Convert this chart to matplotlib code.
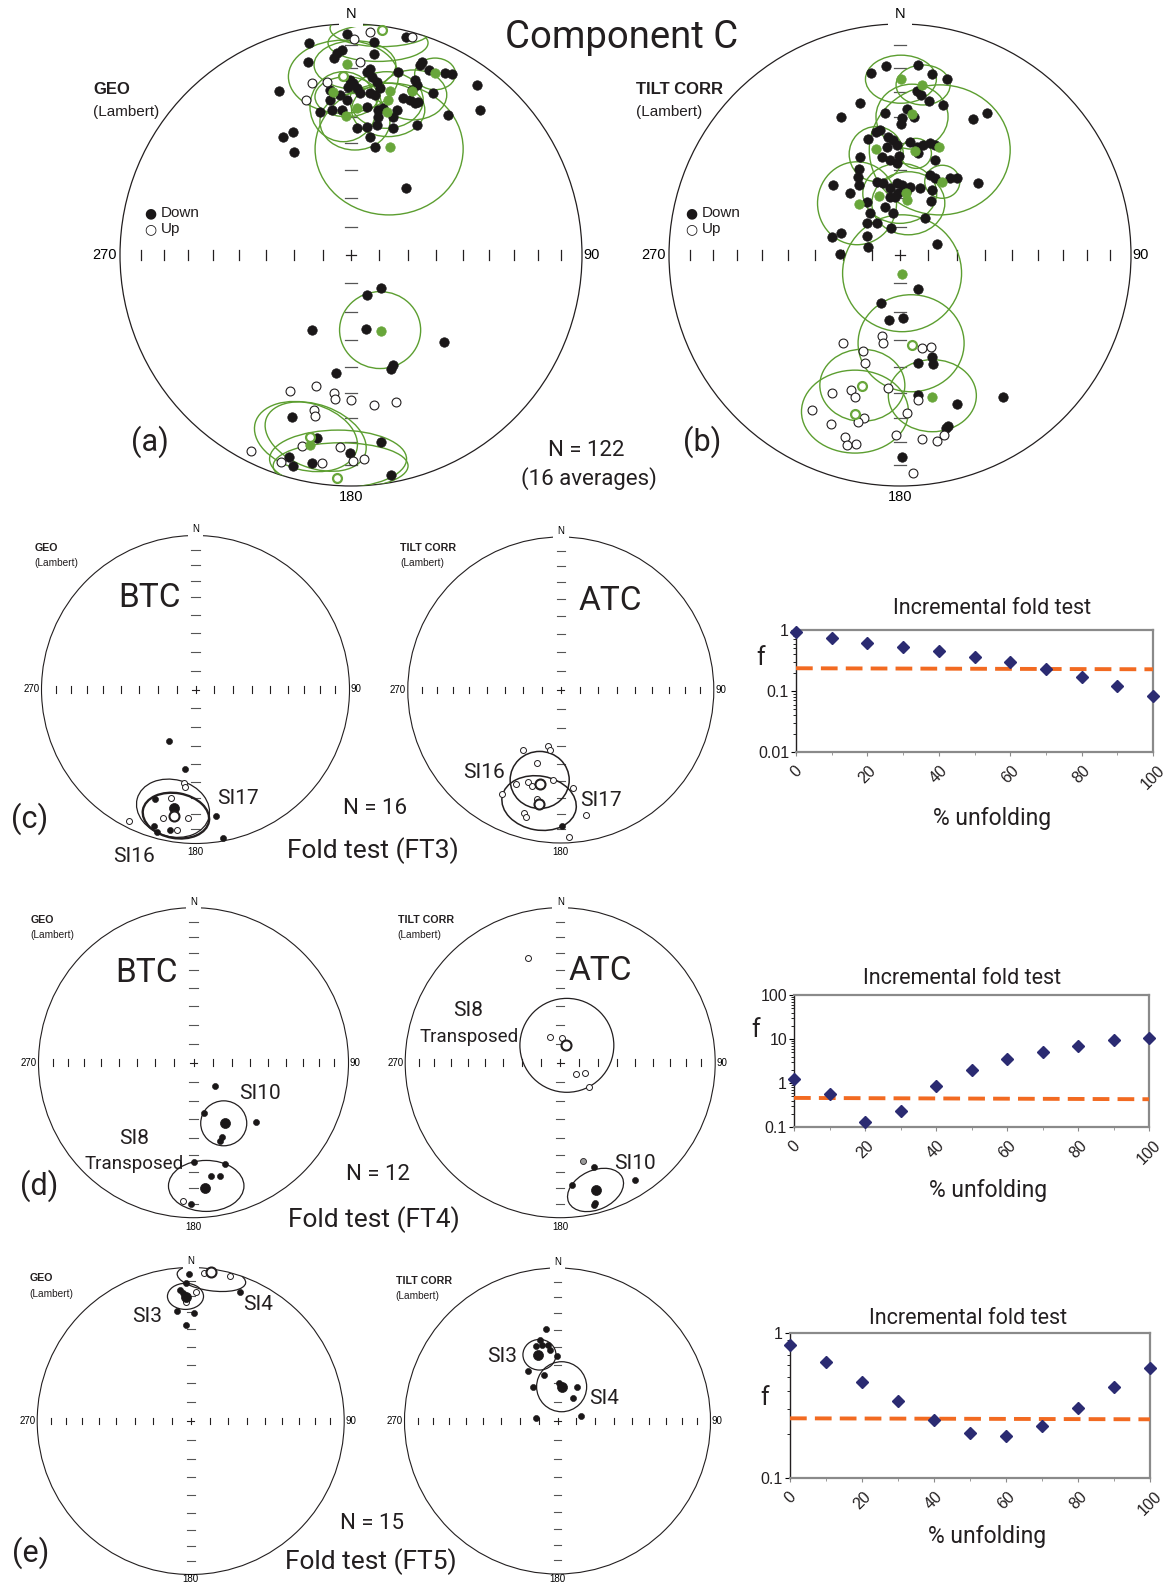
import numpy as np
import matplotlib
matplotlib.use("Agg")
import matplotlib.pyplot as plt
from matplotlib.patches import Circle, Ellipse
from matplotlib.ticker import NullFormatter

# ---------------- DATA (net coordinates: x = east, y = north, unit = net radius) -------------
# Panel (a) GEO
A_DOWN = [(-0.016, 0.957), (-0.183, 0.919), (0.101, 0.921), (0.237, 0.942), (-0.072, 0.852),
          (-0.062, 0.873), (-0.040, 0.887), (-0.187, 0.837), (0.101, 0.869), (0.306, 0.837),
          (0.299, 0.823), (-0.312, 0.711), (0.082, 0.804), (0.068, 0.794), (0.090, 0.772),
          (-0.004, 0.758), (0.010, 0.743), (-0.012, 0.729), (0.025, 0.722), (0.039, 0.700),
          (0.205, 0.794), (0.339, 0.801), (0.407, 0.787), (0.436, 0.784), (0.277, 0.758),
          (0.284, 0.736), (0.263, 0.714), (0.111, 0.750), (0.126, 0.722), (0.082, 0.700),
          (0.104, 0.693), (0.356, 0.700), (-0.091, 0.714), (-0.091, 0.671), (-0.048, 0.693),
          (-0.019, 0.671), (0.226, 0.678), (0.255, 0.671), (0.277, 0.657), (0.291, 0.664),
          (0.544, 0.736), (0.558, 0.628), (0.421, 0.606), (-0.134, 0.620), (-0.084, 0.628),
          (-0.040, 0.628), (0.068, 0.642), (0.118, 0.628), (0.118, 0.599), (0.111, 0.563),
          (0.140, 0.635), (0.198, 0.628), (0.183, 0.599), (-0.293, 0.512), (-0.250, 0.534),
          (-0.247, 0.447), (0.025, 0.548), (0.068, 0.555), (0.082, 0.512), (0.183, 0.548),
          (0.284, 0.563), (0.104, 0.469), (0.238, 0.291),
          (0.130, -0.144), (0.071, -0.173), (-0.170, -0.325), (0.065, -0.322), (0.401, -0.375),
          (0.183, -0.476), (0.172, -0.495), (-0.066, -0.512), (-0.257, -0.703), (-0.146, -0.794),
          (0.130, -0.811), (-0.267, -0.876), (-0.250, -0.913), (-0.169, -0.899), (-0.004, -0.858),
          (0.174, -0.951)]
A_UP = [(0.013, 0.935), (0.082, 0.967), (0.263, 0.945), (0.039, 0.837), (-0.170, 0.743),
        (-0.105, 0.750), (-0.195, 0.671),
        (-0.263, -0.587), (-0.152, -0.567), (-0.074, -0.599), (-0.068, -0.623), (0.001, -0.628),
        (0.101, -0.648), (0.194, -0.636), (-0.160, -0.671), (-0.157, -0.697), (-0.432, -0.847),
        (-0.213, -0.826), (-0.048, -0.830), (-0.304, -0.895), (-0.124, -0.902), (0.010, -0.892),
        (0.058, -0.884)]
A_MEAN_DOWN = [(-0.019, 0.827), (-0.077, 0.707), (0.025, 0.635), (-0.022, 0.603), (0.169, 0.710),
               (0.263, 0.711), (0.161, 0.671), (0.157, 0.620), (0.364, 0.787), (0.169, 0.469),
               (0.130, -0.328), (-0.177, -0.823)]
A_MEAN_UP = [(0.133, 0.974), (-0.033, 0.776), (-0.176, -0.787), (-0.059, -0.964)]
# ellipses: (x, y, width, height, angle)
A_ELL = [(-0.033, 0.772, 0.476, 0.316, 0), (0.133, 0.981, 0.447, 0.158, 0),
         (0.117, 0.918, 0.433, 0.160, 0), (0.017, 0.823, 0.354, 0.209, 0),
         (0.364, 0.784, 0.177, 0.137, 0), (0.165, 0.459, 0.641, 0.571, 0),
         (-0.033, 0.642, 0.289, 0.303, 0), (0.154, 0.671, 0.317, 0.245, 0),
         (0.270, 0.693, 0.289, 0.216, 0), (-0.019, 0.685, 0.274, 0.173, 0),
         (0.161, 0.628, 0.317, 0.231, 0), (0.017, 0.577, 0.303, 0.245, 0),
         (0.126, -0.325, 0.351, 0.333, 0), (-0.195, -0.786, 0.455, 0.290, -15),
         (-0.153, -0.786, 0.455, 0.274, -20), (-0.056, -0.883, 0.593, 0.250, 0),
         (-0.045, -0.913, 0.584, 0.200, 0)]

# Panel (b) TILT CORR
B_DOWN = [(-0.061, 0.818), (-0.126, 0.787), (0.079, 0.823), (0.137, 0.784), (0.205, 0.762),
          (0.072, 0.711), (0.090, 0.693), (0.127, 0.668), (0.187, 0.649), (-0.173, 0.659),
          (-0.257, 0.596), (-0.065, 0.613), (0.029, 0.631), (0.007, 0.592), (0.004, 0.567),
          (0.061, 0.599), (0.315, 0.589), (0.378, 0.616), (-0.104, 0.534), (-0.087, 0.541),
          (-0.137, 0.501), (-0.051, 0.512), (-0.029, 0.498), (-0.014, 0.476), (-0.058, 0.469),
          (0.043, 0.490), (0.072, 0.469), (0.101, 0.476), (0.130, 0.484), (0.152, 0.476),
          (-0.173, 0.426), (-0.077, 0.423), (-0.043, 0.411), (-0.003, 0.429), (-0.014, 0.397),
          (0.079, 0.440), (0.152, 0.411), (-0.176, 0.371), (-0.183, 0.339), (-0.176, 0.303),
          (-0.291, 0.303), (-0.216, 0.270), (-0.101, 0.317), (-0.072, 0.310), (-0.043, 0.289),
          (-0.014, 0.310), (0.007, 0.303), (0.029, 0.281), (0.043, 0.296), (-0.007, 0.267),
          (-0.022, 0.252), (-0.043, 0.252), (0.087, 0.289), (0.130, 0.346), (0.152, 0.332),
          (0.140, 0.281), (0.216, 0.332), (0.245, 0.332), (0.339, 0.310), (-0.144, 0.231),
          (-0.130, 0.181), (-0.144, 0.137), (-0.101, 0.137), (-0.065, 0.209), (-0.029, 0.181),
          (-0.040, 0.116), (0.134, 0.235), (0.108, 0.159), (-0.296, 0.077), (-0.257, 0.097),
          (-0.144, 0.082), (-0.137, 0.036), (-0.260, 0.004), (0.161, 0.048),
          (0.077, -0.148), (-0.084, -0.206), (-0.046, -0.281), (0.012, -0.274), (0.140, -0.440),
          (0.144, -0.472), (0.079, -0.469), (0.077, -0.606), (0.245, -0.645), (0.445, -0.613),
          (0.209, -0.739), (0.199, -0.750), (0.007, -0.873)]
B_UP = [(-0.245, -0.380), (-0.079, -0.351), (-0.072, -0.382), (-0.159, -0.414), (-0.152, -0.466),
        (0.097, -0.404), (0.134, -0.400), (-0.051, -0.574), (-0.212, -0.584), (-0.195, -0.613),
        (-0.296, -0.599), (0.077, -0.628), (-0.382, -0.671), (-0.300, -0.732), (-0.156, -0.707),
        (-0.181, -0.724), (0.029, -0.683), (-0.017, -0.779), (-0.238, -0.789), (-0.190, -0.818),
        (-0.231, -0.823), (0.094, -0.798), (0.159, -0.805), (0.192, -0.779), (0.055, -0.945)]
B_MEAN_DOWN = [(0.003, 0.761), (0.095, 0.736), (0.053, 0.610), (-0.104, 0.458), (0.066, 0.450),
               (0.170, 0.466), (0.182, 0.315), (-0.091, 0.257), (0.026, 0.267), (0.032, 0.238),
               (-0.179, 0.222), (0.007, -0.084), (0.140, -0.613)]
B_MEAN_UP = [(0.051, -0.390), (-0.166, -0.567), (-0.196, -0.687)]
B_ELL = [(0.004, 0.761, 0.307, 0.208, 0), (0.100, 0.736, 0.234, 0.173, 0),
         (0.052, 0.599, 0.312, 0.281, 0), (0.172, 0.455, 0.610, 0.563, 0),
         (-0.103, 0.437, 0.234, 0.238, 0), (0.069, 0.440, 0.134, 0.130, 0),
         (0.183, 0.317, 0.152, 0.143, 0), (-0.186, 0.224, 0.342, 0.359, 0),
         (-0.001, 0.267, 0.320, 0.260, 0), (0.036, 0.224, 0.316, 0.273, 0),
         (0.009, -0.079, 0.515, 0.506, 0), (0.048, -0.382, 0.459, 0.420, 0),
         (-0.163, -0.564, 0.368, 0.312, 0), (-0.195, -0.678, 0.463, 0.359, 0),
         (0.140, -0.609, 0.381, 0.312, 0)]

# Panel (c) FT3
C_BTC_DOWN = [(-0.172, -0.332), (-0.066, -0.518), (-0.261, -0.713), (-0.271, -0.884),
              (-0.252, -0.923), (-0.166, -0.912), (0.131, -0.819), (0.177, -0.962)]
C_BTC_UP = [(-0.073, -0.605), (-0.066, -0.635), (-0.159, -0.706), (-0.213, -0.832),
            (-0.049, -0.836), (-0.122, -0.912), (-0.432, -0.856)]
C_BTC_MEAN_DOWN = [(-0.138, -0.771)]
C_BTC_MEAN_UP = [(-0.138, -0.821)]
C_BTC_ELL = [(-0.146, -0.771, 0.481, 0.370, -15, 0.9), (-0.127, -0.819, 0.435, 0.292, -10, 1.7)]
C_ATC_DOWN = [(0.006, -0.887)]
C_ATC_UP = [(-0.249, -0.392), (-0.082, -0.364), (-0.071, -0.392), (-0.154, -0.479),
            (-0.295, -0.616), (-0.212, -0.599), (-0.190, -0.625), (-0.049, -0.588),
            (0.078, -0.639), (-0.382, -0.682), (-0.158, -0.714), (-0.241, -0.802),
            (-0.229, -0.832), (0.165, -0.819), (0.056, -0.959)]
C_ATC_MEAN_DOWN = []
C_ATC_MEAN_UP = [(-0.136, -0.616), (-0.142, -0.745)]
C_ATC_ELL = [(-0.138, -0.588, 0.386, 0.373, 0, 1.1), (-0.142, -0.739, 0.490, 0.353, -10, 1.1)]

# Panel (d) FT4
D_BTC_DOWN = [(0.137, -0.150), (0.070, -0.326), (0.405, -0.381), (0.183, -0.481), (0.174, -0.503),
              (0.000, -0.639), (0.201, -0.654), (0.110, -0.731), (0.174, -0.729), (-0.015, -0.914)]
D_BTC_UP = [(-0.070, -0.890)]
D_BTC_MEAN_DOWN = [(0.201, -0.391), (0.076, -0.810)]
D_BTC_MEAN_UP = []
D_BTC_ELL = [(0.195, -0.391, 0.297, 0.290, 0, 0.9), (0.082, -0.795, 0.487, 0.329, 0, 0.9)]
D_ATC_DOWN = [(0.216, -0.671), (0.079, -0.789), (0.222, -0.903), (0.216, -0.918), (0.481, -0.757)]
D_ATC_GREY = [(0.146, -0.632)]
D_ATC_UP = [(-0.205, 0.674), (-0.067, 0.168), (0.009, 0.157), (0.100, -0.075), (0.161, -0.068),
            (0.186, -0.155)]
D_ATC_MEAN_DOWN = [(0.228, -0.821)]
D_ATC_MEAN_UP = [(0.039, 0.114)]
D_ATC_ELL = [(0.043, 0.112, 0.606, 0.606, 0, 0.9), (0.228, -0.821, 0.381, 0.252, 25, 0.9)]

# Panel (e) FT5
E_BTC_DOWN = [(-0.012, 0.958), (-0.028, 0.897), (-0.068, 0.853), (-0.050, 0.832), (-0.089, 0.719),
              (0.024, 0.702), (-0.028, 0.625), (0.319, 0.842)]
E_BTC_UP = [(0.086, 0.966), (0.255, 0.945), (0.033, 0.838), (-0.028, 0.777)]
E_BTC_MEAN_DOWN = [(-0.028, 0.810)]
E_BTC_MEAN_UP = [(0.132, 0.973)]
E_BTC_ELL = [(0.135, 0.930, 0.450, 0.163, -8, 0.9), (-0.034, 0.812, 0.235, 0.170, 0, 0.9)]
E_ATC_DOWN = [(-0.072, 0.599), (-0.112, 0.529), (-0.143, 0.490), (-0.103, 0.497), (-0.059, 0.497),
              (-0.050, 0.464), (-0.004, 0.425), (-0.195, 0.327), (-0.090, 0.301), (-0.158, 0.224),
              (0.011, 0.246), (0.125, 0.224), (0.104, 0.148), (-0.143, 0.022), (0.156, 0.033)]
E_ATC_UP = []
E_ATC_MEAN_DOWN = [(-0.127, 0.431), (0.027, 0.224)]
E_ATC_MEAN_UP = []
E_ATC_ELL = [(-0.118, 0.433, 0.216, 0.200, 0, 0.9), (0.027, 0.224, 0.327, 0.327, 0, 0.9)]

# Incremental fold tests
UNFOLD_PCT = [0, 10, 20, 30, 40, 50, 60, 70, 80, 90, 100]
F_FT3 = [0.92, 0.73, 0.62, 0.52, 0.45, 0.36, 0.30, 0.23, 0.17, 0.123, 0.083]
F_FT4 = [1.26, 0.556, 0.130, 0.232, 0.86, 1.96, 3.48, 5.12, 7.0, 9.44, 10.3]
F_FT5 = [0.83, 0.63, 0.46, 0.34, 0.251, 0.203, 0.196, 0.229, 0.302, 0.423, 0.575]
CRIT_FT3 = [0.236, 0.227]
CRIT_FT4 = [0.458, 0.428]
CRIT_FT5 = [0.258, 0.254]

# ---------------- STYLE -------------
W, H = 1172, 1585
GREEN = "#68a63a"
GREEN_LINE = "#5c9e30"
NAVY = "#2b2b72"
ORANGE = "#f26a21"
MYRIAD = ["Roboto", "DejaVu Sans"]
ARIAL = ["Liberation Sans", "DejaVu Sans"]
INC_TICKS = [10, 20, 30, 40, 50, 60, 70, 80]

fig = plt.figure(figsize=(W / 100, H / 100), dpi=100)
bg = fig.add_axes([0, 0, 1, 1])
bg.set_xlim(0, W)
bg.set_ylim(H, 0)
bg.axis("off")


def txt(x, y, s, size, fam=MYRIAD, weight="normal", ha="center", va="center", color="#231f20"):
    if fam is MYRIAD:
        y = y + 4
    bg.text(x, y, s, fontsize=size, family=fam, weight=weight, ha=ha, va=va, color=color)


def net(cx, cy, r, big, s_off=None):
    pad = 1.12
    ax = fig.add_axes([(cx - pad * r) / W, 1 - (cy + pad * r) / H, 2 * pad * r / W, 2 * pad * r / H])
    ax.set_xlim(-pad, pad)
    ax.set_ylim(-pad, pad)
    ax.axis("off")
    clw = 0.9 if big else 0.8
    ax.add_patch(Circle((0, 0), 1, fill=False, ec="#231f20", lw=clw, zorder=1))
    radii = [np.sqrt(2) * np.sin(np.radians(90 - i) / 2) for i in INC_TICKS]
    th, tw = 0.022, 0.026
    for rr in radii:
        for s in (-1, 1):
            ax.plot([s * rr, s * rr], [-th, th], color="#231f20", lw=clw, zorder=1)
            ax.plot([-tw, tw], [s * rr, s * rr], color="#555555", lw=clw, zorder=1)
    ax.plot([-0.022, 0.022], [0, 0], color="#231f20", lw=clw, zorder=1)
    ax.plot([0, 0], [-0.022, 0.022], color="#231f20", lw=clw, zorder=1)
    fs = 10.5 if big else 7
    ax.text(0, 1.045 if big else 1.04, "N", fontsize=fs, family=ARIAL, ha="center", va="center",
            zorder=3, bbox=dict(boxstyle="square,pad=0.45", fc="white", ec="none"))
    ax.text(-1.012, 0, "270", fontsize=fs, family=ARIAL, ha="right", va="center")
    ax.text(1.008, 0, "90", fontsize=fs, family=ARIAL, ha="left", va="center")
    if s_off is None:
        s_off = -1.047 if big else -1.057
    ax.text(0, s_off, "180", fontsize=fs, family=ARIAL, ha="center", va="center")
    return ax


def pts(ax, lst, **kw):
    if lst:
        xs, ys = zip(*lst)
        ax.plot(xs, ys, ls="none", marker="o", **kw)


def ellipses(ax, lst, color, default_lw=1.0):
    clip = Circle((0, 0), 1, transform=ax.transData)
    for e in lst:
        lw = e[5] if len(e) > 5 else default_lw
        p = Ellipse((e[0], e[1]), e[2], e[3], angle=e[4], fill=False, ec=color, lw=lw, zorder=2)
        ax.add_patch(p)
        p.set_clip_path(clip)


# ---- big nets ----
for (cx, down, up, mdown, mup, ell) in [(351, A_DOWN, A_UP, A_MEAN_DOWN, A_MEAN_UP, A_ELL),
                                        (900, B_DOWN, B_UP, B_MEAN_DOWN, B_MEAN_UP, B_ELL)]:
    ax = net(cx, 255, 231, True)
    ellipses(ax, ell, GREEN_LINE, 1.0)
    pts(ax, down, ms=6.8, mfc="#1a1718", mec="#1a1718", mew=0.5, zorder=4)
    pts(ax, up, ms=6.4, mfc="white", mec="#231f20", mew=0.8, zorder=4)
    pts(ax, mdown, ms=6.8, mfc=GREEN, mec=GREEN, mew=0.5, zorder=5)
    pts(ax, mup, ms=6.4, mfc="white", mec=GREEN, mew=1.6, zorder=5)

# ---- small nets ----
small = [
    (195.5, 689.5, 154, C_BTC_DOWN, C_BTC_UP, C_BTC_MEAN_DOWN, C_BTC_MEAN_UP, C_BTC_ELL, [], None),
    (560.8, 690, 153, C_ATC_DOWN, C_ATC_UP, C_ATC_MEAN_DOWN, C_ATC_MEAN_UP, C_ATC_ELL, [], None),
    (193.5, 1062.7, 155, D_BTC_DOWN, D_BTC_UP, D_BTC_MEAN_DOWN, D_BTC_MEAN_UP, D_BTC_ELL, [], None),
    (560.2, 1062.7, 155, D_ATC_DOWN, D_ATC_UP, D_ATC_MEAN_DOWN, D_ATC_MEAN_UP, D_ATC_ELL, D_ATC_GREY, None),
    (190.7, 1421, 153.5, E_BTC_DOWN, E_BTC_UP, E_BTC_MEAN_DOWN, E_BTC_MEAN_UP, E_BTC_ELL, [], -1.03),
    (557.5, 1421, 153, E_ATC_DOWN, E_ATC_UP, E_ATC_MEAN_DOWN, E_ATC_MEAN_UP, E_ATC_ELL, [], -1.03),
]
for (cx, cy, r, down, up, mdown, mup, ell, grey, soff) in small:
    ax = net(cx, cy, r, False, soff)
    ellipses(ax, ell, "#231f20", 0.9)
    pts(ax, down, ms=4.4, mfc="#1a1718", mec="#1a1718", mew=0.4, zorder=4)
    pts(ax, up, ms=4.3, mfc="white", mec="#231f20", mew=0.7, zorder=4)
    pts(ax, grey, ms=4.3, mfc="#9a9a9a", mec="#231f20", mew=0.6, zorder=4)
    pts(ax, mdown, ms=7.2, mfc="#1a1718", mec="#1a1718", mew=0.5, zorder=5)
    pts(ax, mup, ms=7.2, mfc="white", mec="#231f20", mew=1.5, zorder=5)


# ---- incremental fold test charts ----
def chart(l, r, t, b, vals, crit, ylim, yticks, ylabels, title_xy, f_xy, xl_xy):
    ax = fig.add_axes([l / W, 1 - b / H, (r - l) / W, (b - t) / H])
    ax.set_yscale("log")
    ax.set_xlim(0, 100)
    ax.set_ylim(*ylim)
    ax.plot([UNFOLD_PCT[0], UNFOLD_PCT[-1]], crit, color=ORANGE, lw=2.8,
            dashes=(4.3, 2.1), zorder=3)
    ax.plot(UNFOLD_PCT, vals, ls="none", marker="D", ms=5.8, mfc=NAVY, mec=NAVY,
            clip_on=False, zorder=5)
    for s in ("top", "right", "bottom"):
        ax.spines[s].set_color("#8a8a8a")
        ax.spines[s].set_linewidth(1.6)
    ax.spines["left"].set_color("#231f20")
    ax.spines["left"].set_linewidth(1.0)
    ax.set_yticks(yticks)
    ax.set_yticklabels(ylabels)
    ax.yaxis.set_minor_formatter(NullFormatter())
    ax.tick_params(axis="y", which="major", length=3.5, width=0.8, pad=1.5,
                   labelsize=11.5, labelcolor="#231f20")
    ax.tick_params(axis="y", which="minor", length=2, width=0.6)
    ax.set_xticks([0, 20, 40, 60, 80, 100])
    ax.set_xticks(UNFOLD_PCT, minor=True)
    ax.set_xticklabels(["0", "20", "40", "60", "80", "100"], rotation=45, ha="center", va="top")
    ax.tick_params(axis="x", which="major", length=3, width=0.8, color="#8a8a8a", pad=5,
                   labelsize=11.5, labelcolor="#231f20")
    ax.tick_params(axis="x", which="minor", length=2, width=0.6, color="#8a8a8a")
    for lab in ax.get_xticklabels() + ax.get_yticklabels():
        lab.set_family(ARIAL)
    txt(title_xy[0], title_xy[1], "Incremental fold test", 15.5)
    txt(f_xy[0], f_xy[1], "f", 18)
    txt(xl_xy[0], xl_xy[1], "% unfolding", 16.5)


chart(796, 1153, 630, 752, F_FT3, CRIT_FT3, (0.01, 1), [0.01, 0.1, 1], ["0.01", "0.1", "1"],
      (991.7, 604), (760.7, 654), (991.7, 814))
chart(794, 1149, 995, 1127, F_FT4, CRIT_FT4, (0.1, 100), [0.1, 1, 10, 100],
      ["0.1", "1", "10", "100"], (961.7, 974), (756, 1026), (988.3, 1186))
chart(790, 1150, 1333, 1478, F_FT5, CRIT_FT5, (0.1, 1), [0.1, 1], ["0.1", "1"],
      (968.3, 1315), (765, 1394), (986.7, 1533))

# ---- texts ----
txt(622, 33, "Component C", 27.5)
for x0, lab in [(93, "GEO"), (636, "TILT CORR")]:
    txt(x0, 89, lab, 12, ARIAL, "bold", ha="left")
    txt(x0, 112, "(Lambert)", 11, ARIAL, ha="left")
for mx in (150, 691):
    bg.text(mx, 213.4, "\u25CF", fontsize=10, family="DejaVu Sans", ha="center", va="center",
            color="#1a1718")
    bg.text(mx, 229.5, "\u25CB", fontsize=10, family="DejaVu Sans", ha="center", va="center",
            color="#1a1718")
    txt(mx + 11, 213.4, "Down", 11, ARIAL, ha="left")
    txt(mx + 11, 229.5, "Up", 11, ARIAL, ha="left")
txt(149.7, 438, "(a)", 22)
txt(701.8, 438, "(b)", 22)
txt(586.5, 447, "N = 122", 16)
txt(588.5, 475, "(16 averages)", 16)

small_heads = [(34.3, 548, 563.3, "GEO"), (400, 548.3, 563.3, "TILT CORR"),
               (30.7, 920, 935, "GEO"), (397.8, 920, 935, "TILT CORR"),
               (29.3, 1278.3, 1294.3, "GEO"), (395.5, 1280.7, 1296, "TILT CORR")]
for x0, y1, y2, lab in small_heads:
    txt(x0, y1, lab, 7.7, ARIAL, "bold", ha="left")
    txt(x0, y2, "(Lambert)", 7.3, ARIAL, ha="left")

txt(149.2, 594, "BTC", 24)
txt(610, 597, "ATC", 24)
txt(216.7, 794, "SI17", 15, ha="left")
txt(113.3, 853, "SI16", 15, ha="left")
txt(462.7, 768, "SI16", 15, ha="left")
txt(580, 796, "SI17", 15, ha="left")
txt(29.3, 815, "(c)", 22)
txt(375, 804, "N = 16", 16)
txt(373.3, 847, "Fold test (FT3)", 19)

txt(146.3, 969, "BTC", 24)
txt(600.5, 967, "ATC", 24)
txt(259.6, 1089.5, "SI10", 15)
txt(134, 1134.5, "SI8", 15)
txt(134, 1160, "Transposed", 13.5)
txt(468.4, 1006, "SI8", 15)
txt(469, 1033, "Transposed", 13.5)
txt(634.7, 1159.5, "SI10", 15)
txt(39.4, 1182, "(d)", 22)
txt(377.5, 1171, "N = 12", 16)
txt(374, 1215.5, "Fold test (FT4)", 19)

txt(258, 1301, "SI4", 15)
txt(147, 1313, "SI3", 15)
txt(502, 1353, "SI3", 15)
txt(604, 1394, "SI4", 15)
txt(30.3, 1549, "(e)", 22)
txt(372.4, 1519.5, "N = 15", 16)
txt(371, 1558, "Fold test (FT5)", 19)

fig.savefig("out.png", dpi=100, facecolor="white")
